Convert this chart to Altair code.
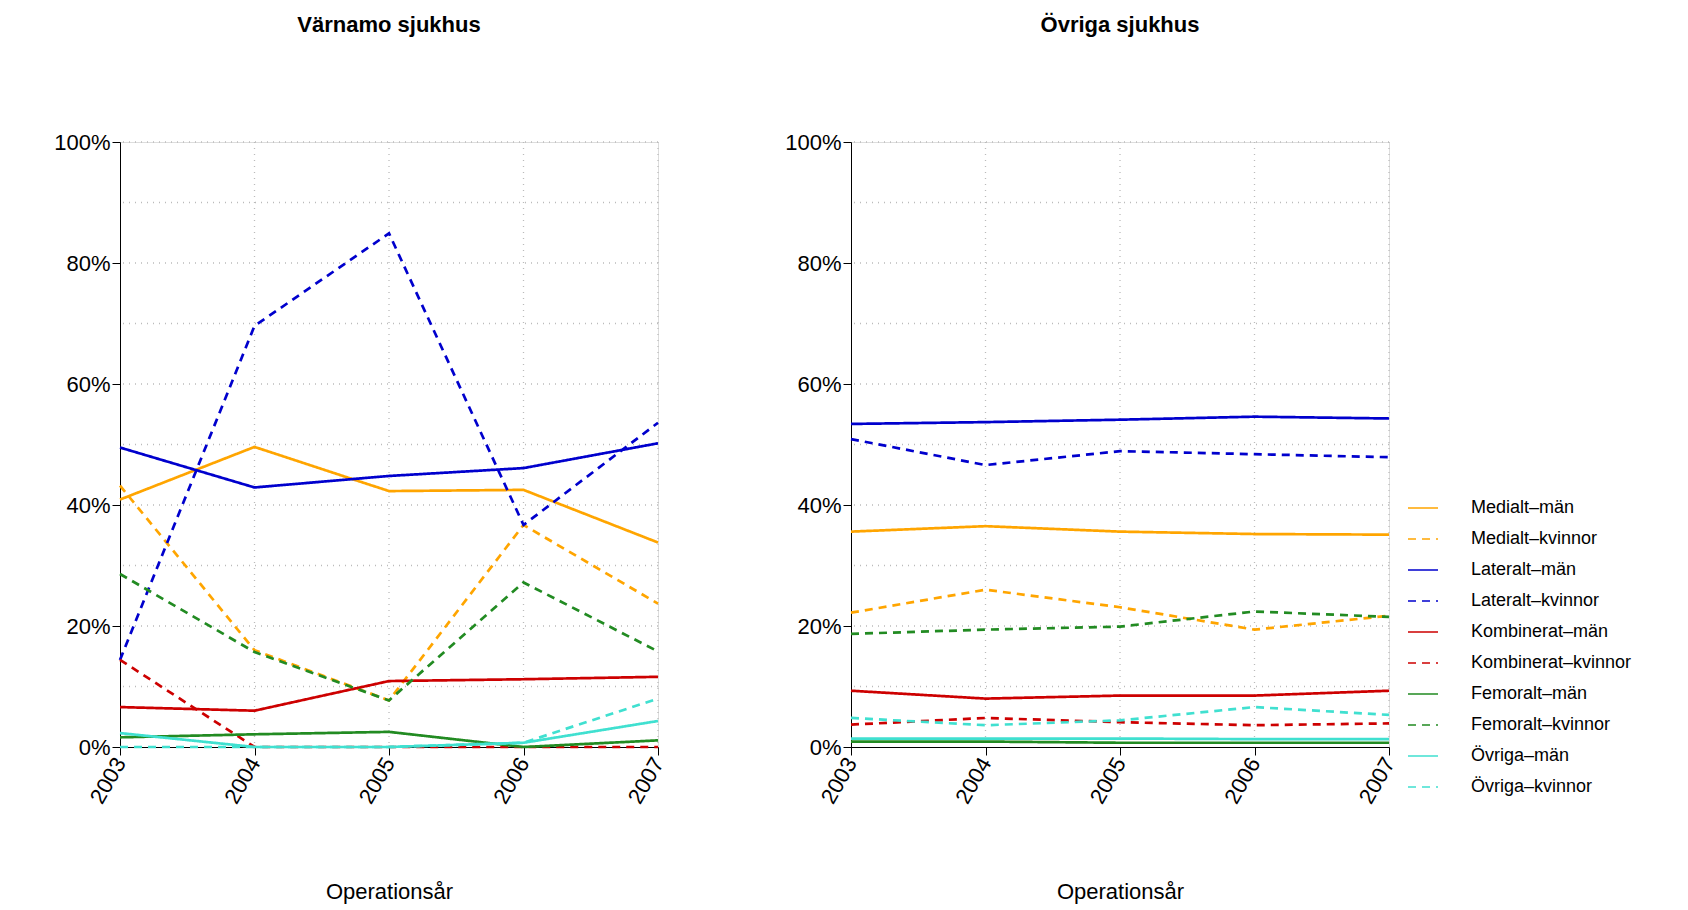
import pandas as pd
import altair as alt

years = [2003, 2004, 2005, 2006, 2007]
series = ["Medialt–män", "Medialt–kvinnor", "Lateralt–män", "Lateralt–kvinnor",
          "Kombinerat–män", "Kombinerat–kvinnor", "Femoralt–män", "Femoralt–kvinnor",
          "Övriga–män", "Övriga–kvinnor"]
colors = ["#FFA500", "#FFA500", "#0000CD", "#0000CD", "#CD0000", "#CD0000",
          "#228B22", "#228B22", "#40E0D0", "#40E0D0"]
dashes = [[1, 0], [8, 6]] * 5

varnamo = {
    "Medialt–män": [40.9, 49.6, 42.3, 42.5, 33.8],
    "Medialt–kvinnor": [43.2, 16.0, 7.7, 36.7, 23.7],
    "Lateralt–män": [49.5, 42.9, 44.8, 46.1, 50.2],
    "Lateralt–kvinnor": [14.4, 69.6, 84.9, 36.7, 53.6],
    "Kombinerat–män": [6.6, 6.0, 10.9, 11.2, 11.6],
    "Kombinerat–kvinnor": [14.4, 0, 0, 0, 0],
    "Femoralt–män": [1.6, 2.1, 2.5, 0, 1.1],
    "Femoralt–kvinnor": [28.6, 15.7, 7.7, 27.2, 15.8],
    "Övriga–män": [2.3, 0, 0, 0.7, 4.3],
    "Övriga–kvinnor": [0, 0, 0, 0.7, 8.0],
}
ovriga = {
    "Medialt–män": [35.6, 36.5, 35.6, 35.2, 35.1],
    "Medialt–kvinnor": [22.2, 26.0, 23.1, 19.4, 21.7],
    "Lateralt–män": [53.4, 53.7, 54.1, 54.6, 54.3],
    "Lateralt–kvinnor": [50.9, 46.6, 48.9, 48.4, 47.9],
    "Kombinerat–män": [9.3, 8.0, 8.5, 8.5, 9.3],
    "Kombinerat–kvinnor": [3.7, 4.8, 4.1, 3.6, 3.9],
    "Femoralt–män": [0.9, 0.9, 0.7, 0.7, 0.7],
    "Femoralt–kvinnor": [18.7, 19.4, 19.9, 22.4, 21.5],
    "Övriga–män": [1.4, 1.4, 1.4, 1.3, 1.3],
    "Övriga–kvinnor": [4.8, 3.6, 4.4, 6.6, 5.3],
}

grid_y = [10, 20, 30, 40, 50, 60, 70, 80, 90, 100]
grid_x = years[1:]

FONT = "Liberation Sans"
XS = alt.Scale(domain=[2003, 2007], nice=False, zero=False)
YS = alt.Scale(domain=[0, 1], nice=False)
W, H = 538, 605


def to_long(d):
    rows = []
    for s in series:
        for y, v in zip(years, d[s]):
            rows.append({"series": s, "year": y, "pct": v / 100})
    return pd.DataFrame(rows)


def panel(d, title, legend):
    df = to_long(d)
    x = alt.X("year:Q", scale=XS,
              axis=alt.Axis(values=years, format="d", labelAngle=-60, title="Operationsår",
                            grid=False, domainColor="black", tickColor="black",
                            labelFontSize=22, titleFontSize=22, titleFontWeight="normal",
                            labelColor="black", titleColor="black", titlePadding=75,
                            tickSize=8, labelPadding=4))
    y = alt.Y("pct:Q", scale=YS,
              axis=alt.Axis(values=[0, 0.2, 0.4, 0.6, 0.8, 1.0], format=".0%", title=None,
                            grid=False, domainColor="black", tickColor="black",
                            labelFontSize=22, labelColor="black", tickSize=8))
    if legend:
        leg = alt.Legend(title=None, symbolType="stroke", labelFontSize=18, symbolSize=900,
                         symbolStrokeWidth=1.5, labelColor="black", labelLimit=400,
                         rowPadding=6, labelOffset=32, orient="none",
                         legendX=W + 18, legendY=350)
    else:
        leg = None
    lines = alt.Chart(df).mark_line(strokeWidth=2.7).encode(
        x=x, y=y,
        color=alt.Color("series:N", scale=alt.Scale(domain=series, range=colors),
                        sort=series, legend=leg),
        strokeDash=alt.StrokeDash("series:N", scale=alt.Scale(domain=series, range=dashes),
                                  sort=series, legend=leg),
        order=alt.Order("year:Q"),
    )
    gy = alt.Chart(pd.DataFrame({"g": [g / 100 for g in grid_y]})).mark_rule(
        color="#bbbbbb", strokeDash=[1, 5], strokeWidth=1.3).encode(
        y=alt.Y("g:Q", scale=YS))
    gx = alt.Chart(pd.DataFrame({"g": grid_x})).mark_rule(
        color="#bbbbbb", strokeDash=[1, 5], strokeWidth=1.3).encode(
        x=alt.X("g:Q", scale=XS))
    return alt.layer(gy, gx, lines).properties(
        width=W, height=H,
        title=alt.TitleParams(title, fontSize=22, fontWeight="bold", offset=94,
                              color="black", font=FONT))


chart = alt.hconcat(
    panel(varnamo, "Värnamo sjukhus", False),
    panel(ovriga, "Övriga sjukhus", True),
    spacing=115,
).resolve_scale(color="independent", strokeDash="independent").configure_view(
    stroke=None
).configure(font=FONT).properties(padding={"left": 45, "top": 5, "right": 5, "bottom": 5})

chart.save("out.html", embed_options={"renderer": "svg", "actions": False})
